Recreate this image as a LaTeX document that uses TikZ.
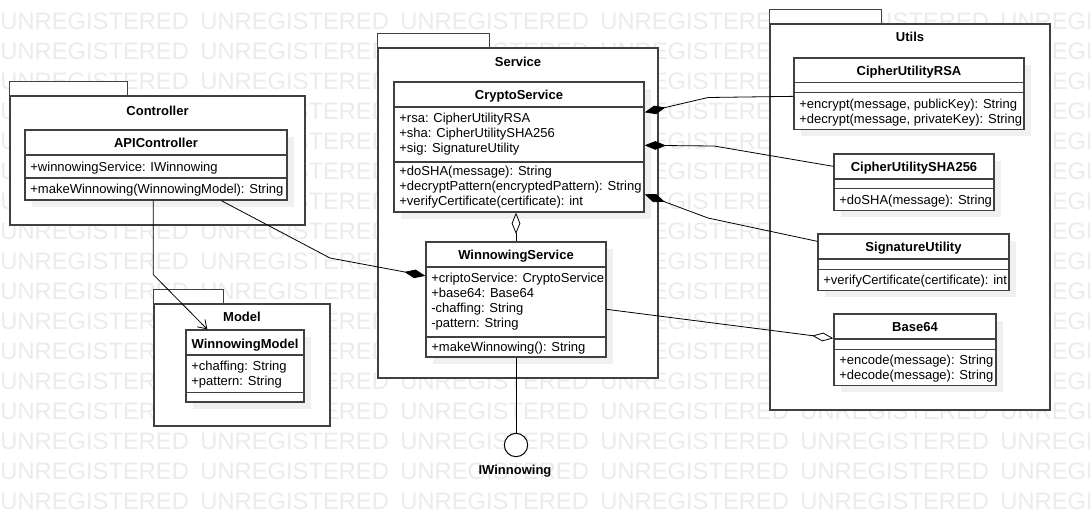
\documentclass[tikz,border=0pt]{standalone}
\usepackage{fontspec}
\setmainfont{Liberation Sans}
\usetikzlibrary{arrows.meta,calc,fit,shadows}

\begin{document}
\begin{tikzpicture}[x=0.75pt,y=-0.75pt,line width=0.6pt,
  every node/.style={font=\fontsize{9.75}{11.25}\selectfont,inner sep=0pt},
  watermark/.style={font=\fontsize{17.8}{20}\selectfont,text=black!8,anchor=base west},
  pkg/.style={draw=black!75,line width=1pt,fill=white},
  umlclass/.style={draw=black!75,line width=1pt,fill=white,
    drop shadow={opacity=1,fill=black!6,shadow xshift=5pt,shadow yshift=-5pt}},
  cline/.style={draw=black!75,line width=1pt},
  ctitle/.style={font=\fontsize{9.75}{11.25}\selectfont\bfseries,anchor=base},
  members/.style={align=left,anchor=base west},
  comp/.style={-{Diamond[length=16pt,width=6.5pt]}},
  aggr/.style={-{Diamond[open,length=16pt,width=6.5pt,fill=white]}},
  nav/.style={-{Straight Barb[length=6pt,width=8pt]}}]
\useasboundingbox (0,0) rectangle (1090,522);
% background marks
\begin{scope}
\clip (0,0) rectangle (1090,522);
\foreach \row in {0,...,16}
  \foreach \col in {0,...,5}
    \node[watermark] (mk-\row-\col) at (\col*200,29+\row*30) {UNREGISTERED};
\end{scope}
% packages
\node[pkg,fit={(10,96) (305,225)}] (ctrl) {};
\draw[pkg] (ctrl.north west) rectangle ++(118,-14);
\node[ctitle] (ctrl-name) at (ctrl.north |- 0,115) {Controller};
\node[pkg,fit={(378,48) (658,378)}] (svc) {};
\draw[pkg] (svc.north west) rectangle ++(112,-14);
\node[ctitle] (svc-name) at (svc.north |- 0,66) {Service};
\node[pkg,fit={(770,24) (1050,410)}] (utils) {};
\draw[pkg] (utils.north west) rectangle ++(112,-14);
\node[ctitle] (utils-name) at (utils.north |- 0,41.7) {Utils};
\node[pkg,fit={(154,304) (330,426)}] (mdl) {};
\draw[pkg] (mdl.north west) rectangle ++(70,-14);
\node[ctitle] (mdl-name) at (mdl.north |- 0,321.7) {Model};
% classes (members placed at the baseline of their last line)
\node[umlclass,fit={(25,130) (287,200)}] (api) {};
\draw[cline] (api.west |- 0,155) -- (api.east |- 0,155)
  (api.west |- 0,178) -- (api.east |- 0,178);
\node[ctitle] (api-name) at (api.north |- 0,147.5) {APIController};
\node[members] (api-attr) at (30,171) {+winnowingService: IWinnowing};
\node[members] (api-ops) at (30,193.5) {+makeWinnowing(WinnowingModel): String};
\node[umlclass,fit={(394,82) (644,212)}] (cs) {};
\draw[cline] (cs.west |- 0,107) -- (cs.east |- 0,107)
  (cs.west |- 0,162) -- (cs.east |- 0,162);
\node[ctitle] (cs-name) at (cs.north |- 0,99.5) {CryptoService};
\node[members] (cs-attr) at (399,152.5) {+rsa: CipherUtilityRSA\\+sha: CipherUtilitySHA256\\+sig: SignatureUtility};
\node[members] (cs-ops) at (399,205.5) {+doSHA(message): String\\+decryptPattern(encryptedPattern): String\\+verifyCertificate(certificate): int};
\node[umlclass,fit={(426,242) (606,357)}] (ws) {};
\draw[cline] (ws.west |- 0,267) -- (ws.east |- 0,267)
  (ws.west |- 0,337) -- (ws.east |- 0,337);
\node[ctitle] (ws-name) at (ws.north |- 0,259.5) {WinnowingService};
\node[members] (ws-attr) at (431,327.5) {+criptoService: CryptoService\\+base64: Base64\\-chaffing: String\\-pattern: String};
\node[members] (ws-ops) at (431,351.5) {+makeWinnowing(): String};
\node[umlclass,fit={(794,58) (1024,129.5)}] (rsa) {};
\draw[cline] (rsa.west |- 0,82.3) -- (rsa.east |- 0,82.3)
  (rsa.west |- 0,92.7) -- (rsa.east |- 0,92.7);
\node[ctitle] (rsa-name) at (rsa.north |- 0,75) {CipherUtilityRSA};
\node[members] (rsa-ops) at (799,123.5) {+encrypt(message, publicKey): String\\+decrypt(message, privateKey): String};
\node[umlclass,fit={(834,154) (994,210.7)}] (sha) {};
\draw[cline] (sha.west |- 0,179) -- (sha.east |- 0,179)
  (sha.west |- 0,188.3) -- (sha.east |- 0,188.3);
\node[ctitle] (sha-name) at (sha.north |- 0,171.5) {CipherUtilitySHA256};
\node[members] (sha-ops) at (839,204) {+doSHA(message): String};
\node[umlclass,fit={(818,234) (1009,290.7)}] (sig) {};
\draw[cline] (sig.west |- 0,259) -- (sig.east |- 0,259)
  (sig.west |- 0,269.3) -- (sig.east |- 0,269.3);
\node[ctitle] (sig-name) at (sig.north |- 0,251) {SignatureUtility};
\node[members] (sig-ops) at (823,284.3) {+verifyCertificate(certificate): int};
\node[umlclass,fit={(834,314) (996,385.7)}] (b64) {};
\draw[cline] (b64.west |- 0,339) -- (b64.east |- 0,339)
  (b64.west |- 0,349.3) -- (b64.east |- 0,349.3);
\node[ctitle] (b64-name) at (b64.north |- 0,331) {Base64};
\node[members] (b64-ops) at (839,379.5) {+encode(message): String\\+decode(message): String};
\node[umlclass,fit={(186,330) (304,402)}] (model) {};
\draw[cline] (model.west |- 0,355) -- (model.east |- 0,355)
  (model.west |- 0,392.7) -- (model.east |- 0,392.7);
\node[ctitle] (model-name) at (model.north |- 0,348) {WinnowingModel};
\node[members] (model-attr) at (191,385.5) {+chaffing: String\\+pattern: String};
% interface
\node[draw,circle,minimum size=17.5pt,line width=0.75pt,fill=white] (iface) at (516,445) {};
\node[ctitle] (iface-name) at (515,474) {IWinnowing};
% relations
\coordinate (bend) at (330,258);
\draw[nav] ($(api.south west)+(129,0)$) -- ++(0,74) -- ($(model.north west)+(22,0)$);
\draw[comp] ($(api.south west)+(197,0)$) -- (bend) -- ($(ws.north west)+(0,34.5)$);
\draw[comp] ($(rsa.north west)+(0,39)$) -- (708,97.5) -- ($(cs.north east)+(0,31)$);
\draw[comp] ($(sha.north west)+(0,13)$) -- (714,146) -- ($(cs.north east)+(0,64)$);
\draw[comp] ($(sig.north west)+(0,8)$) -- (708,218) -- ($(cs.north east)+(0,113)$);
\draw[aggr] ($(ws.north east)+(0,68)$) -- ($(b64.north west)+(0,25)$);
\draw[aggr] (ws.north) -- (ws.north |- cs.south);
\draw (ws.south) -- (iface.north);
\end{tikzpicture}
\end{document}
